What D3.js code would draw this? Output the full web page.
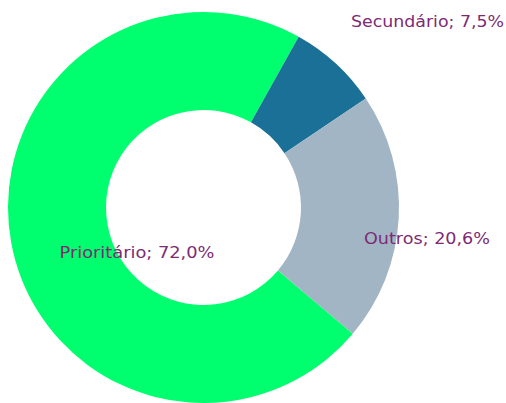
<!DOCTYPE html>
<html><head><meta charset="utf-8">
<script src="https://cdn.jsdelivr.net/npm/d3@7"></script>
<style>html,body{margin:0;padding:0;background:#fff;overflow:hidden}</style>
</head><body>
<svg id="c" width="506" height="403"></svg>
<script>
const categories = ["Prioritário", "Secundário", "Outros"];
const values = [72.0, 7.5, 20.6];
const labels = ["Prioritário; 72,0%", "Secundário; 7,5%", "Outros; 20,6%"];
const colors = ["#00ff6e", "#1b7098", "#a2b5c4"];

const svg = d3.select("#c");
const cx = 203.5, cy = 207.5, R = 195.5, r = 97.5;
const g = svg.append("g").attr("transform", `translate(${cx},${cy})`);
const start = 130.2 * Math.PI / 180;
const pie = d3.pie().sort(null).value(d => d).startAngle(start).endAngle(start + 2 * Math.PI);
const arcs = pie(values);
const arc = d3.arc().innerRadius(r).outerRadius(R);
g.selectAll("path").data(arcs).enter().append("path")
  .attr("d", arc).attr("fill", (d, i) => colors[i]);

// label positions (centre of text)
const labelPos = [[137, 252], [427.5, 21], [427, 238]];
const labelW = [155, 153, 126];
svg.selectAll("text.lbl").data(labels).enter().append("text")
  .attr("class", "lbl")
  .attr("x", (d, i) => labelPos[i][0])
  .attr("y", (d, i) => labelPos[i][1])
  .attr("text-anchor", "middle")
  .attr("dominant-baseline", "central")
  .attr("font-family", "DejaVu Sans, sans-serif")
  .attr("font-size", 16)
  .attr("textLength", (d, i) => labelW[i])
  .attr("lengthAdjust", "spacingAndGlyphs")
  .attr("fill", "#7d2a74")
  .text(d => d);
</script>
</body></html>
